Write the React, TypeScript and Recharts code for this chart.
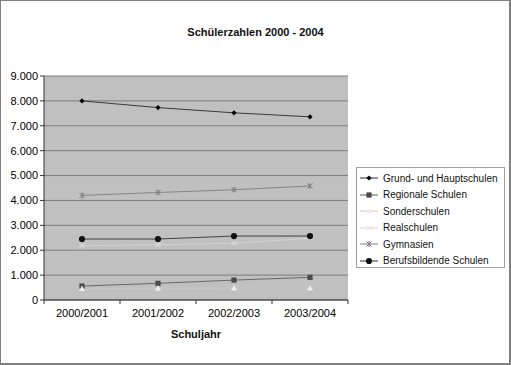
import { LineChart, Line, XAxis, YAxis, CartesianGrid } from 'recharts'

const years = ['2000/2001', '2001/2002', '2002/2003', '2003/2004']
const grundHaupt = [8000, 7730, 7520, 7360]
const regionale = [560, 670, 800, 910]
const sonder = [460, 470, 480, 480]
const realschulen = [2180, 2220, 2280, 2480]
const gymnasien = [4200, 4320, 4430, 4580]
const berufs = [2450, 2450, 2570, 2570]
const yTicks = [0, 1000, 2000, 3000, 4000, 5000, 6000, 7000, 8000, 9000]

document.body.style.margin = '0'

const FONT = 'Arial, "Liberation Sans", sans-serif'

type Shape = 'diamond' | 'square' | 'triangle' | 'cross' | 'star' | 'circle'

function marker(shape: Shape, cx: number, cy: number, color: string, key?: string | number) {
  switch (shape) {
    case 'diamond':
      return <path key={key} d={`M${cx},${cy - 2.6}L${cx + 2.6},${cy}L${cx},${cy + 2.6}L${cx - 2.6},${cy}Z`} fill={color} />
    case 'square':
      return <rect key={key} x={cx - 2.6} y={cy - 2.6} width={5.2} height={5.2} fill={color} />
    case 'triangle':
      return <path key={key} d={`M${cx},${cy - 3}L${cx + 3},${cy + 2.5}L${cx - 3},${cy + 2.5}Z`} fill={color} />
    case 'cross':
      return (
        <path key={key} d={`M${cx - 2.5},${cy - 2.5}L${cx + 2.5},${cy + 2.5}M${cx - 2.5},${cy + 2.5}L${cx + 2.5},${cy - 2.5}`} stroke={color} strokeWidth={1} fill="none" />
      )
    case 'star':
      return (
        <path
          key={key}
          d={`M${cx - 2.5},${cy - 2.5}L${cx + 2.5},${cy + 2.5}M${cx - 2.5},${cy + 2.5}L${cx + 2.5},${cy - 2.5}M${cx},${cy - 3}L${cx},${cy + 3}`}
          stroke={color}
          strokeWidth={1}
          fill="none"
        />
      )
    default:
      return <circle key={key} cx={cx} cy={cy} r={3.1} fill={color} />
  }
}

const series = [
  { key: 'grund', name: 'Grund- und Hauptschulen', values: grundHaupt, line: '#2a2a2a', mark: '#000000', shape: 'diamond' as Shape },
  { key: 'regional', name: 'Regionale Schulen', values: regionale, line: '#5f5f5f', mark: '#4a4a4a', shape: 'square' as Shape },
  { key: 'sonder', name: 'Sonderschulen', values: sonder, line: '#cacaca', mark: '#ececec', shape: 'triangle' as Shape },
  { key: 'real', name: 'Realschulen', values: realschulen, line: '#d6d6d6', mark: '#e4e4e4', shape: 'cross' as Shape },
  { key: 'gym', name: 'Gymnasien', values: gymnasien, line: '#7e7e7e', mark: '#7a7a7a', shape: 'star' as Shape },
  { key: 'beruf', name: 'Berufsbildende Schulen', values: berufs, line: '#333333', mark: '#111111', shape: 'circle' as Shape },
]

const data = years.map((year, i) => {
  const row: Record<string, string | number> = { year }
  series.forEach(s => { row[s.key] = s.values[i] })
  return row
})

const fmt = (v: number) => String(v).replace(/\B(?=(\d{3})+(?!\d))/g, '.')

function YearTick(props: any) {
  const { x, y, payload, index } = props
  const half = 38
  return (
    <g>
      {index === 0 && <line x1={x - half} y1={y} x2={x - half} y2={y + 4} stroke="#333" />}
      <line x1={x + half} y1={y} x2={x + half} y2={y + 4} stroke="#333" />
      <text x={x} y={y + 17} textAnchor="middle" fontSize={11} fontFamily={FONT} fill="#000">
        {payload.value}
      </text>
    </g>
  )
}

export default function App() {
  return (
    <div style={{ position: 'relative', width: 511, height: 365, background: '#fff', fontFamily: FONT }}>
      <LineChart width={511} height={365} data={data} margin={{ top: 76, right: 163, bottom: 35, left: 0 }}>
        <CartesianGrid vertical={false} stroke="#7c7c7c" fill="#c0c0c0" fillOpacity={1} />
        <XAxis
          dataKey="year"
          height={30}
          padding={{ left: 38, right: 38 }}
          tickLine={false}
          tickSize={0}
          tickMargin={0}
          axisLine={{ stroke: '#333' }}
          tick={<YearTick />}
          interval={0}
        />
        <YAxis
          width={44}
          domain={[0, 9000]}
          ticks={yTicks}
          tickFormatter={fmt}
          tickSize={4}
          tickMargin={2}
          axisLine={{ stroke: '#333' }}
          tickLine={{ stroke: '#333' }}
          tick={{ fontSize: 11, fontFamily: FONT, fill: '#000' }}
        />
        {series.map(s => (
          <Line
            key={s.key}
            dataKey={s.key}
            name={s.name}
            type="linear"
            stroke={s.line}
            strokeWidth={0.9}
            isAnimationActive={false}
            dot={(p: any) => marker(s.shape, p.cx, p.cy, s.mark, p.index)}
            activeDot={false}
          />
        ))}
      </LineChart>
      <div
        style={{
          position: 'absolute', left: 0, top: 26, width: 511, textAlign: 'center',
          fontSize: 11, fontWeight: 'bold', color: '#111',
        }}
      >
        Schülerzahlen 2000 - 2004
      </div>
      <div
        style={{
          position: 'absolute', left: 44, top: 328, width: 304, textAlign: 'center',
          fontSize: 11, fontWeight: 'bold', color: '#111',
        }}
      >
        Schuljahr
      </div>
      <div
        style={{
          position: 'absolute', left: 356, top: 167, width: 149, height: 101, boxSizing: 'border-box',
          border: '1px solid #a0a0a0', background: '#fff', overflow: 'hidden', paddingTop: 2,
        }}
      >
        {series.map(s => (
          <div key={s.key} style={{ display: 'flex', alignItems: 'center', height: 16.5, whiteSpace: 'nowrap' }}>
            <svg width={26} height={12} style={{ flex: 'none' }}>
              <line x1={3} y1={6} x2={21} y2={6} stroke={s.line} strokeWidth={1} />
              {marker(s.shape, 12, 6, s.mark)}
            </svg>
            <span style={{ fontSize: 10, color: '#111' }}>{s.name}</span>
          </div>
        ))}
      </div>
      <div
        style={{
          position: 'absolute', left: 0, top: 0, width: 511, height: 365, boxSizing: 'border-box',
          border: '1px solid #808080', borderRightWidth: 2, borderBottomWidth: 2, pointerEvents: 'none',
        }}
      />
    </div>
  )
}
